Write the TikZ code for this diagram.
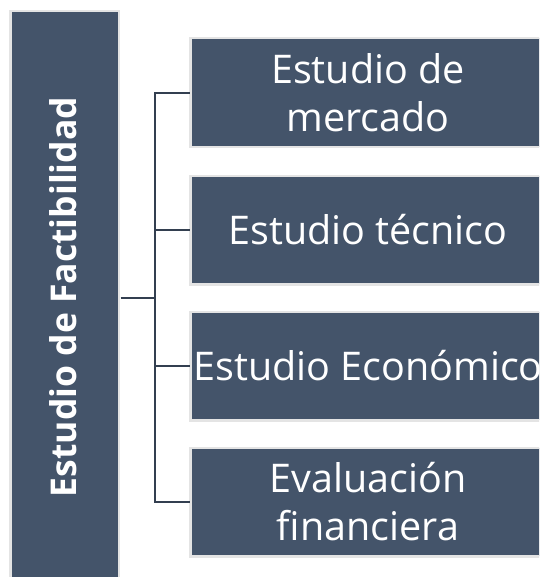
\documentclass[tikz,border=0pt]{standalone}
\usepackage{fontspec}
\setmainfont{Open Sans}
\definecolor{boxfill}{HTML}{44546A}
\definecolor{boxedge}{HTML}{E4E4E4}
\definecolor{linkcol}{HTML}{333F50}
\begin{document}
\begin{tikzpicture}[x=1pt,y=-1pt,
  box/.style={fill=boxfill,draw=boxedge,line width=2.4pt},
  txt/.style={text=white,font=\fontsize{39.5}{48}\selectfont,align=center,inner sep=0pt},
  link/.style={draw=linkcol,line width=2pt}]
\useasboundingbox (0,0) rectangle (539,577);
\begin{scope}
\clip (0,0) rectangle (539,577);
\draw[box] (10.5,10.8) rectangle (119,590);
\node[text=white,font=\fontsize{35.5}{44}\bfseries,rotate=90,inner sep=0pt] (main) at (63,297) {Estudio de Factibilidad};
\draw[box] (190.6,38.3) rectangle (547,146.8);
\draw[box] (190.6,175.8) rectangle (547,284.3);
\draw[box] (190.6,311.8) rectangle (547,420.3);
\draw[box] (190.6,447.8) rectangle (547,556.3);
\node[txt] (b1) at (368,92.5) {Estudio de\\mercado};
\node[txt] (b2) at (368,230) {Estudio técnico};
\node[txt] (b3) at (368,366) {Estudio Económico};
\node[txt] (b4) at (368,502) {Evaluación\\financiera};
\end{scope}
\coordinate (root) at (120.5,297.7);
\coordinate (hub) at (155,297.7);
\coordinate (t1) at (155,93);
\coordinate (t2) at (155,230);
\coordinate (t3) at (155,366);
\coordinate (t4) at (155,502);
\coordinate (e1) at (190,93);
\coordinate (e2) at (190,230);
\coordinate (e3) at (190,366);
\coordinate (e4) at (190,502);
\draw[link] (root) -- (hub);
\draw[link,line cap=rect] (t1) -- (t4);
\draw[link] (t1) -- (e1);
\draw[link] (t2) -- (e2);
\draw[link] (t3) -- (e3);
\draw[link] (t4) -- (e4);
\end{tikzpicture}
\end{document}
